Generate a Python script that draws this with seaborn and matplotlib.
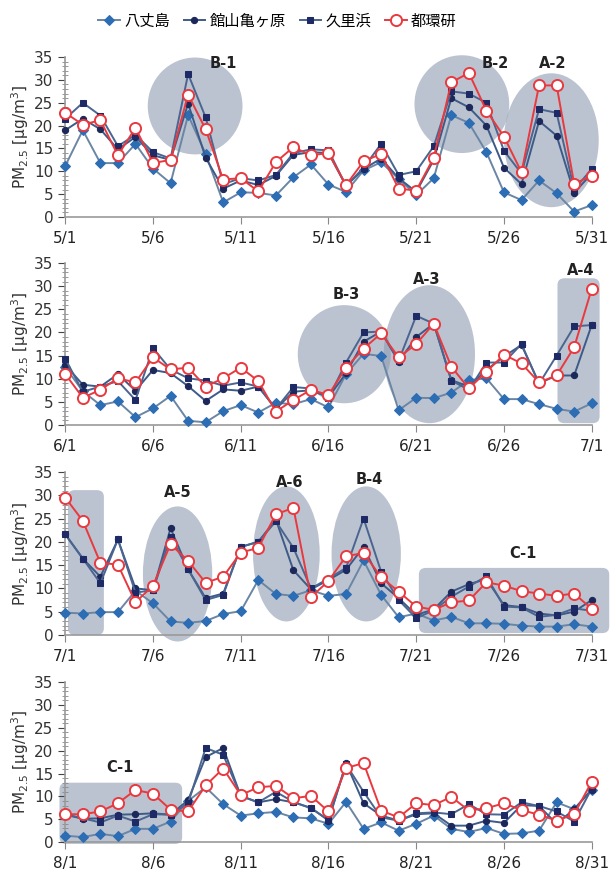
import matplotlib
matplotlib.use('Agg')
import matplotlib.pyplot as plt
import seaborn as sns
import pandas as pd
from matplotlib.patches import Ellipse, FancyBboxPatch
from matplotlib.ticker import MultipleLocator

# 観測値 (PM2.5, μg/m3) - 図から読み取り
may_hachijo = [11.2, 19.0, 11.8, 11.8, 16.0, 10.6, 7.4, 22.3, 13.8, 3.2, 5.4, 5.3, 4.7, 8.7, 11.5, 7.1,
               5.5, 10.2, 12.0, 8.3, 4.8, 8.5, 22.3, 20.6, 14.2, 5.4, 3.7, 8.0, 5.2, 1.2, 2.6]
may_tateyama = [19.0, 21.5, 19.2, 14.8, 17.5, 13.5, 12.5, 24.8, 13.0, 6.2, 8.0, 7.0, 9.0, 13.6, 14.2, 14.0,
                6.8, 10.5, 12.8, 8.5, 5.5, 12.5, 26.0, 24.0, 20.0, 10.8, 7.2, 21.0, 17.8, 5.3, 9.5]
may_kurihama = [21.5, 25.0, 22.2, 15.5, 18.0, 14.2, 12.8, 31.3, 21.8, 7.2, 8.5, 8.0, 9.2, 14.0, 14.8, 14.6,
                6.8, 10.8, 16.0, 9.2, 10.0, 15.5, 27.5, 27.0, 25.0, 14.5, 9.5, 23.6, 22.8, 6.0, 10.5]
may_tokanken = [22.8, 20.2, 21.2, 13.5, 19.5, 11.8, 12.5, 26.8, 19.2, 8.2, 8.5, 5.6, 12.0, 15.3, 13.5, 14.0,
                7.0, 12.2, 13.8, 6.2, 5.8, 13.0, 29.5, 31.5, 23.3, 17.6, 9.8, 28.8, 28.8, 7.3, 9.0]

jun_hachijo = [12.5, 7.3, 4.3, 5.1, 1.7, 3.6, 6.3, 0.9, 0.6, 3.0, 4.3, 2.7, 4.8, 4.5, 5.6, 3.8,
               11.0, 15.4, 14.9, 3.2, 5.9, 5.8, 7.0, 9.7, 10.1, 5.6, 5.6, 4.5, 3.5, 2.9, 4.7]
jun_tateyama = [13.0, 8.7, 8.3, 11.0, 7.4, 11.9, 11.2, 8.4, 5.2, 7.7, 7.4, 8.3, 3.5, 7.2, 7.5, 6.0,
                11.2, 18.0, 20.2, 13.7, 19.0, 21.9, 9.7, 8.3, 11.9, 14.8, 17.3, 9.0, 10.7, 10.7, 21.6]
jun_kurihama = [14.3, 7.2, 8.3, 9.5, 5.4, 16.6, 12.0, 10.1, 9.6, 8.5, 9.2, 8.3, 3.5, 8.2, 7.9, 5.8,
                13.5, 20.0, 20.2, 13.9, 23.6, 21.9, 9.6, 7.6, 13.5, 13.5, 17.5, 8.9, 15.0, 21.3, 21.6]
jun_tokanken = [11.0, 5.9, 7.6, 10.1, 9.2, 14.6, 12.0, 12.4, 8.3, 10.1, 12.4, 9.5, 2.9, 5.4, 7.6, 6.5,
                12.4, 16.5, 19.8, 14.6, 17.5, 21.9, 12.6, 7.9, 11.5, 15.2, 13.3, 9.2, 10.7, 16.8, 29.4]

jul_hachijo = [4.8, 4.6, 4.9, 4.9, 9.5, 6.8, 2.9, 2.6, 3.0, 4.5, 5.1, 11.8, 8.8, 8.4, 9.6, 8.4,
               8.8, 16.0, 8.6, 3.8, 4.6, 3.1, 3.9, 2.5, 2.5, 2.4, 2.0, 1.8, 1.8, 2.3, 1.8]
jul_tateyama = [21.6, 16.4, 12.5, 20.5, 10.0, 9.6, 22.9, 14.1, 7.9, 8.9, 18.9, 20.0, 24.8, 13.9, 9.8, 11.8,
                14.0, 18.9, 11.1, 7.9, 4.3, 5.5, 9.3, 10.9, 12.0, 6.4, 6.0, 4.6, 4.2, 5.0, 7.5]
jul_kurihama = [21.6, 16.4, 11.1, 20.5, 9.1, 9.6, 21.1, 14.1, 7.5, 8.6, 18.9, 20.0, 24.4, 18.7, 10.0, 12.1,
                14.4, 25.0, 13.6, 7.5, 3.6, 5.3, 8.2, 10.4, 12.6, 6.1, 5.9, 3.9, 4.3, 5.7, 5.2]
jul_tokanken = [29.5, 24.5, 15.5, 15.1, 7.0, 10.6, 19.5, 15.9, 11.2, 12.5, 17.7, 18.7, 25.9, 27.3, 8.1, 11.6,
                16.9, 17.6, 12.4, 9.3, 6.1, 5.4, 7.0, 7.4, 11.3, 10.6, 9.4, 8.9, 8.4, 8.9, 5.6]

aug_hachijo = [1.4, 1.1, 1.8, 1.3, 2.9, 2.9, 4.5, 9.0, 12.0, 8.3, 5.8, 6.3, 6.6, 5.4, 5.2, 4.0,
               8.8, 2.9, 4.3, 2.5, 4.0, 5.8, 2.9, 2.2, 3.1, 1.8, 1.9, 2.5, 8.7, 7.2, 11.5]
aug_tateyama = [6.0, 5.1, 5.2, 6.0, 6.1, 6.3, 6.0, 9.2, 18.6, 20.6, 10.1, 8.7, 9.4, 8.7, 7.5, 4.7,
                17.3, 8.5, 5.8, 4.7, 6.1, 6.3, 3.6, 3.6, 4.7, 4.2, 8.1, 7.9, 4.0, 7.2, 11.5]
aug_kurihama = [6.1, 5.2, 4.3, 5.8, 4.5, 6.1, 6.0, 8.5, 20.6, 19.1, 10.1, 8.7, 11.0, 8.8, 7.4, 4.9,
                17.0, 11.0, 5.4, 4.7, 6.3, 6.5, 6.1, 8.3, 6.1, 6.0, 8.7, 7.9, 6.7, 4.5, 11.7]
aug_tokanken = [6.1, 6.1, 6.7, 8.5, 11.4, 10.6, 7.1, 6.7, 12.4, 16.1, 10.3, 12.0, 12.3, 9.6, 10.1, 6.7,
                16.2, 17.3, 6.9, 5.4, 8.5, 8.1, 9.9, 6.9, 7.4, 8.5, 7.0, 6.0, 4.7, 6.1, 13.2]

stations = ['八丈島', '館山亀ヶ原', '久里浜', '都環研']

may_ticks = ['5/1', '5/6', '5/11', '5/16', '5/21', '5/26', '5/31']
jun_ticks = ['6/1', '6/6', '6/11', '6/16', '6/21', '6/26', '7/1']
jul_ticks = ['7/1', '7/6', '7/11', '7/16', '7/21', '7/26', '7/31']
aug_ticks = ['8/1', '8/6', '8/11', '8/16', '8/21', '8/26', '8/31']

months = [
    ([may_hachijo, may_tateyama, may_kurihama, may_tokanken], may_ticks),
    ([jun_hachijo, jun_tateyama, jun_kurihama, jun_tokanken], jun_ticks),
    ([jul_hachijo, jul_tateyama, jul_kurihama, jul_tokanken], jul_ticks),
    ([aug_hachijo, aug_tateyama, aug_kurihama, aug_tokanken], aug_ticks),
]

# 系列ごとのスタイル
styles = {
    '八丈島': dict(color='#6A86A4', marker='D', markersize=5.5, markerfacecolor='#2C6DB3',
                 markeredgecolor='#2C6DB3', zorder=3),
    '館山亀ヶ原': dict(color='#3D5A88', marker='o', markersize=4.5, markerfacecolor='#1C275A',
                   markeredgecolor='#1C275A', zorder=4),
    '久里浜': dict(color='#4B6590', marker='s', markersize=5, markerfacecolor='#1E2A66',
                 markeredgecolor='#1E2A66', zorder=5),
    '都環研': dict(color='#E9393F', marker='o', markersize=8, markerfacecolor='white',
                 markeredgecolor='#E9393F', markeredgewidth=1.4, zorder=6),
}

SHADE = dict(facecolor='#8E9BB1', edgecolor='none', alpha=0.6, zorder=1, clip_on=False)

# 注記 (楕円: x, y, 幅, 高さ, ラベル, ラベル位置)
ellipses = [
    [(8.4, 24.3, 5.4, 21.2, 'B-1', (10.0, 33.7)),
     (23.6, 24.7, 5.4, 21.4, 'B-2', (25.5, 33.7)),
     (28.7, 16.8, 5.4, 29.3, 'A-2', (28.8, 33.7))],
    [(16.9, 15.3, 5.3, 21.2, 'B-3', (17.0, 28.3)),
     (21.75, 15.3, 5.2, 29.8, 'A-3', (21.6, 31.5))],
    [(7.4, 13.1, 3.95, 29.0, 'A-5', (7.4, 30.5)),
     (13.6, 17.4, 3.8, 29.0, 'A-6', (13.8, 32.8)),
     (18.15, 17.4, 3.95, 29.0, 'B-4', (18.3, 33.3))],
    [],
]
# 角丸矩形: x0, y0, x1, y1, ラベル, ラベル位置
boxes = [
    [],
    [(29.05, 0.4, 31.45, 31.7, 'A-4', (30.4, 33.3))],
    [(1.15, 0.0, 3.2, 31.1, None, None),
     (21.15, 0.4, 32.0, 14.4, 'C-1', (27.1, 17.4))],
    [(0.67, -0.4, 7.66, 13.0, 'C-1', (4.1, 16.4))],
]

plt.rcParams['font.family'] = ['DejaVu Sans', 'Noto Sans CJK JP']

fig = plt.figure(figsize=(6.1, 8.74), dpi=100)
panel_pos = [0.7517, 0.5137, 0.2735, 0.0365]
panel_h = [0.183, 0.1854, 0.1865, 0.183]

handles = None
for i, (series, ticklabels) in enumerate(months):
    ax = fig.add_axes([0.107, panel_pos[i], 0.863, panel_h[i]])
    days = list(range(1, len(series[0]) + 1))
    for name, vals in zip(stations, series):
        df = pd.DataFrame({'day': days, 'pm': vals})
        sns.lineplot(data=df, x='day', y='pm', ax=ax, label=name, linewidth=1.4,
                     clip_on=False, **styles[name])
    if handles is None:
        handles, labels = ax.get_legend_handles_labels()
    if ax.get_legend() is not None:
        ax.get_legend().remove()

    for (cx, cy, w, h, lab, lpos) in ellipses[i]:
        ax.add_patch(Ellipse((cx, cy), w, h, **SHADE))
        ax.text(lpos[0], lpos[1], lab, ha='center', va='center', fontsize=10.5,
                fontweight='bold', color='#222222', zorder=7)
    for (x0, y0, x1, y1, lab, lpos) in boxes[i]:
        ax.add_patch(FancyBboxPatch((x0, y0), x1 - x0, y1 - y0,
                                    boxstyle='round,pad=0,rounding_size=0.4',
                                    mutation_aspect=3.6, **SHADE))
        if lab:
            ax.text(lpos[0], lpos[1], lab, ha='center', va='center', fontsize=10.5,
                    fontweight='bold', color='#222222', zorder=7)

    ax.set_xlim(1, 31)
    ax.set_ylim(0, 35)
    ax.set_xticks([1, 6, 11, 16, 21, 26, 31])
    ax.set_xticklabels(ticklabels, fontsize=11, color='#222222')
    ax.yaxis.set_major_locator(MultipleLocator(5))
    ax.yaxis.set_minor_locator(MultipleLocator(1))
    ax.tick_params(axis='y', which='major', labelsize=11, colors='#444444',
                   length=5, direction='out', labelcolor='#333333')
    ax.tick_params(axis='y', which='minor', length=4, direction='inout', color='#888888')
    ax.tick_params(axis='x', which='major', length=5, direction='out', color='#888888', pad=5)
    for s in ['top', 'right']:
        ax.spines[s].set_visible(False)
    for s in ['left', 'bottom']:
        ax.spines[s].set_color('#999999')
        ax.spines[s].set_linewidth(1.2)
    ax.set_xlabel('')
    ax.set_ylabel('PM$_{2.5}$ [μg/m$^3$]', fontsize=11, color='#333333', labelpad=2)
    ax.set_facecolor('white')

fig.legend(handles, labels, loc='upper center', bbox_to_anchor=(0.455, 1.0), ncol=4,
           frameon=False, fontsize=11, handlelength=1.4, columnspacing=0.9,
           handletextpad=0.3)

fig.savefig('out.png', dpi=100, facecolor='white')
